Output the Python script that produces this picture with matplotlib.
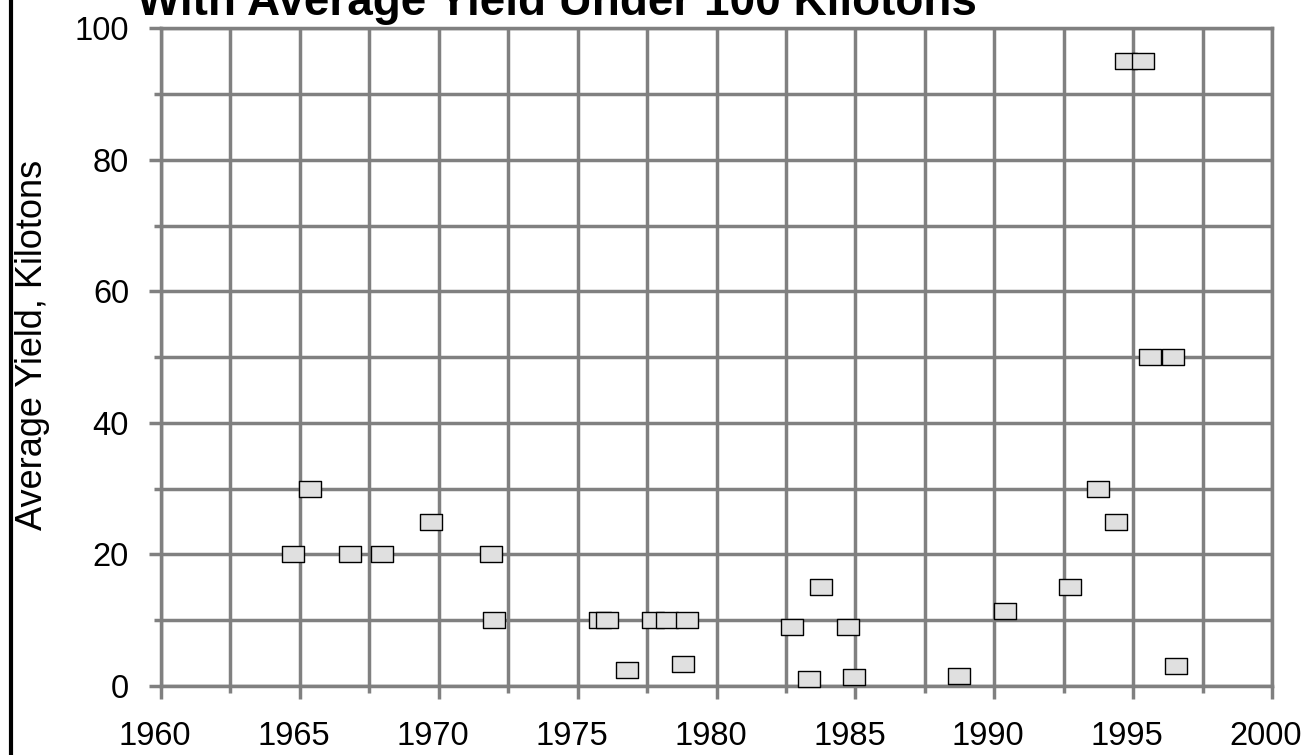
import matplotlib.pyplot as plt
import matplotlib.transforms as mtransforms
from matplotlib.path import Path
from matplotlib.ticker import MultipleLocator

plt.rcParams['font.family'] = ['Liberation Sans', 'DejaVu Sans']

# test dates (decimal years) and average yield in kilotons
years = [1964.77, 1965.36, 1966.82, 1967.97, 1969.71, 1971.87, 1971.99,
         1975.81, 1976.05, 1976.79, 1977.72, 1978.21, 1978.78, 1978.95,
         1982.73, 1983.33, 1983.75, 1984.75, 1984.95, 1988.73, 1990.38,
         1992.71, 1993.73, 1994.40, 1994.74, 1995.36, 1995.60, 1996.43,
         1996.55]
yields = [20, 30, 20, 20, 25, 20, 10,
          10, 10, 2.5, 10, 10, 3.4, 10,
          9, 1, 15, 9, 1.3, 1.5, 11.4,
          15, 30, 25, 95, 95, 50, 50,
          3]

title = "With Average Yield Under 100 Kilotons"
ylabel = "Average Yield, Kilotons"

grid_col = '#808080'

# flat rectangle marker like the original chart
box = Path([(-0.5, -0.37), (0.5, -0.37), (0.5, 0.37), (-0.5, 0.37), (-0.5, -0.37)],
           [Path.MOVETO, Path.LINETO, Path.LINETO, Path.LINETO, Path.CLOSEPOLY])

fig = plt.figure(figsize=(13.1, 7.55), dpi=100)
ax = fig.add_axes([0.1229, 0.0914, 0.8481, 0.8711])

ax.plot(years, yields, linestyle='none', marker=box, markersize=15.6,
        markerfacecolor='#e0e0e0', markeredgecolor='black', markeredgewidth=1.0,
        zorder=3, clip_on=False)

ax.set_xlim(1960, 2000)
ax.set_ylim(0, 100)
ax.xaxis.set_major_locator(MultipleLocator(5))
ax.xaxis.set_minor_locator(MultipleLocator(2.5))
ax.yaxis.set_major_locator(MultipleLocator(20))
ax.yaxis.set_minor_locator(MultipleLocator(10))

ax.set_axisbelow(True)
ax.grid(True, which='both', color=grid_col, linewidth=2.5)
for s in ax.spines.values():
    s.set_color(grid_col)
    s.set_linewidth(2.5)

ax.tick_params(which='major', length=9, width=2.5, color=grid_col,
               labelsize=23.5, labelcolor='black')
ax.tick_params(which='minor', length=5, width=2.5, color=grid_col)
ax.tick_params(axis='x', which='major', pad=16)
ax.tick_params(axis='y', which='major', pad=14)

# year labels sit a few pixels left of their gridlines in the original
shift = mtransforms.ScaledTranslation(-6 / 100, 0, fig.dpi_scale_trans)
for lab in ax.get_xticklabels():
    lab.set_transform(lab.get_transform() + shift)

ax.set_ylabel(ylabel, fontsize=26)
ax.yaxis.set_label_coords(-0.1, 0.518)

fig.text(137 / 1310, 1 - 15 / 755, title, fontsize=33, fontweight='bold',
         ha='left', va='baseline')

# black frame edge on the left
fig.add_artist(plt.Line2D([10.5 / 1310, 10.5 / 1310], [0, 1], color='black',
                          linewidth=3, transform=fig.transFigure))

fig.savefig('out.png', dpi=100)
